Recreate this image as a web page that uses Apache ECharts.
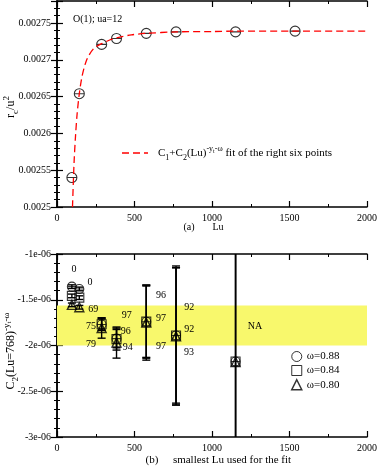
<!DOCTYPE html>
<html>
<head>
<meta charset="utf-8">
<script src="https://cdn.jsdelivr.net/npm/echarts@6/dist/echarts.min.js"></script>
<style>
  html, body { margin: 0; padding: 0; background: #fff; }
  #chart { width: 380px; height: 467px; }
</style>
</head>
<body>
<div id="chart"></div>
<script>
// panel (a): r_c/u^2 against Lu
const topLu = [96, 144, 288, 384, 576, 768, 1152, 1536]
const topRc = [0.00254, 0.002654, 0.002721, 0.002729, 0.002736, 0.002738, 0.002738, 0.002739]
// dashed fit curve
const fitLu = [100, 110, 120, 130, 144, 160, 180, 200, 240, 288, 340, 384, 480, 576, 768, 1000, 1152, 1536, 2000]
const fitVal = [0.0025, 0.00256, 0.002598, 0.002627, 0.002654, 0.002676, 0.002693, 0.002704, 0.002716, 0.002722,
  0.002727, 0.00273, 0.002734, 0.002736, 0.002738, 0.0027385, 0.002739, 0.002739, 0.002739]

// panel (b): C2(Lu=768)^(-yt-w) against smallest Lu used for the fit
const botLu = [96, 144, 288, 384, 576, 768, 1152]
const circleVal = [-1.357e-6, -1.382e-6, -1.77e-6, -1.925e-6, -1.74e-6, -1.89e-6, -2.175e-6]
const circleErr = [0.02e-6, 0.02e-6, 0.06e-6, 0.10e-6, 0.39e-6, 0.74e-6, 2e-6]
const squareVal = [-1.458e-6, -1.477e-6, -1.767e-6, -1.93e-6, -1.739e-6, -1.891e-6, -2.175e-6]
const squareErr = [0.02e-6, 0.02e-6, 0.07e-6, 0.12e-6, 0.40e-6, 0.76e-6, 2e-6]
const triVal = [-1.556e-6, -1.582e-6, -1.81e-6, -1.968e-6, -1.75e-6, -1.90e-6, -2.18e-6]
const triErr = [0.02e-6, 0.02e-6, 0.11e-6, 0.17e-6, 0.41e-6, 0.75e-6, 2e-6]
const bandRange = [-2.0e-6, -1.564e-6]
// the small numbers written beside the points
const noteText = ['0', '0', '69', '75', '79', '97', '96', '94', '96', '97', '97', '92', '92', '93', 'NA']
const noteLu = [110, 213, 234, 219, 219, 450, 443, 456, 671, 671, 671, 854, 854, 852, 1277]
const noteVal = [-1.164e-6, -1.309e-6, -1.603e-6, -1.786e-6, -1.993e-6, -1.676e-6, -1.848e-6, -2.018e-6,
  -1.455e-6, -1.709e-6, -2.011e-6, -1.582e-6, -1.822e-6, -2.07e-6, -1.793e-6]

const serif = 'Liberation Serif'
const circleBar = 'path://M0,5 A5,5 0 1,1 10,5 A5,5 0 1,1 0,5 Z M0,5 L10,5'

function zip (a, b) {
  return a.map(function (v, i) { return [v, b[i]] })
}

function bars (val, err) {
  return botLu.map(function (x, i) { return [x, val[i] - err[i], val[i] + err[i]] })
}

function errorBar (params, api) {
  let cs = params.coordSys
  let p1 = api.coord([api.value(0), api.value(2)])
  let p2 = api.coord([api.value(0), api.value(1)])
  let top = Math.max(p1[1], cs.y)
  let bot = Math.min(p2[1], cs.y + cs.height)
  let x = p1[0]
  let st = { stroke: '#000', lineWidth: 1.4 }
  let kids = [{ type: 'line', shape: { x1: x, y1: top, x2: x, y2: bot }, style: st }]
  if (p1[1] >= cs.y) kids.push({ type: 'line', shape: { x1: x - 4, y1: top, x2: x + 4, y2: top }, style: st })
  if (p2[1] <= cs.y + cs.height) kids.push({ type: 'line', shape: { x1: x - 4, y1: bot, x2: x + 4, y2: bot }, style: st })
  return { type: 'group', children: kids }
}

function noteItem (params, api) {
  let p = api.coord([api.value(0), api.value(1)])
  return {
    type: 'text',
    x: p[0],
    y: p[1],
    style: {
      text: noteText[params.dataIndex],
      font: '10px "' + serif + '"',
      fill: '#000',
      textAlign: 'center',
      textVerticalAlign: 'middle'
    }
  }
}

function sciLabel (v) {
  let s = (+v.toPrecision(4)).toExponential()
  return s.replace(/e([+-])(\d)$/, function (m, sg, d) { return 'e' + sg + '0' + d })
}

const tickInside = { show: true, inside: true, length: 6, lineStyle: { color: '#000', width: 1.2 } }
const minorInside = { show: true, splitNumber: 2, length: 3, lineStyle: { color: '#000', width: 1 } }
const axLine = { show: true, lineStyle: { color: '#000', width: 1.5 } }
const lab = { color: '#000', fontFamily: serif, fontSize: 10 }

function xAx (grid, pos, showLabel) {
  return {
    type: 'value', gridIndex: grid, position: pos, min: 0, max: 2000, interval: 500,
    axisLine: axLine, axisTick: tickInside, minorTick: minorInside, splitLine: { show: false },
    axisLabel: Object.assign({ show: showLabel, margin: 6, formatter: function (v) { return String(v) } }, lab)
  }
}

function yAx (grid, pos, showLabel, range, step, fmt, showMax) {
  return {
    type: 'value', gridIndex: grid, position: pos, min: range[0], max: range[1], interval: step,
    axisLine: axLine, axisTick: tickInside,
    minorTick: Object.assign({}, minorInside, { splitNumber: 5 }), splitLine: { show: false },
    axisLabel: Object.assign({ show: showLabel, margin: 6, formatter: fmt, showMaxLabel: showMax }, lab)
  }
}

function richAt (size) {
  let sub = Math.round(size * 0.72)
  return {
    n: { fontFamily: serif, fontSize: size, lineHeight: size + 6, color: '#000' },
    sb: { fontFamily: serif, fontSize: sub, verticalAlign: 'bottom', color: '#000' },
    sp: { fontFamily: serif, fontSize: sub, verticalAlign: 'top', color: '#000' },
    ss: { fontFamily: serif, fontSize: sub - 2, verticalAlign: 'top', padding: [4, 0, 0, 0], color: '#000' }
  }
}

let myChart = echarts.init(document.getElementById('chart'))

let option = {
  backgroundColor: '#fff',
  animation: false,
  grid: [
    { left: 57, right: 13, top: 1, height: 206 },
    { left: 57, right: 13, top: 254, height: 183 }
  ],
  xAxis: [xAx(0, 'bottom', true), xAx(0, 'top', false), xAx(1, 'bottom', true), xAx(1, 'top', false)],
  yAxis: [
    yAx(0, 'left', true, [0.0025, 0.00278], 0.00005, function (v) { return String(+v.toPrecision(6)) }, false),
    yAx(0, 'right', false, [0.0025, 0.00278], 0.00005),
    yAx(1, 'left', true, [-3e-6, -1e-6], 5e-7, sciLabel, true),
    yAx(1, 'right', false, [-3e-6, -1e-6], 5e-7)
  ],
  legend: {
    orient: 'vertical',
    left: 291,
    top: 351,
    padding: 0,
    itemWidth: 10,
    itemHeight: 10,
    itemGap: 3,
    textStyle: Object.assign({}, lab, { fontSize: 11 }),
    data: [
      { name: 'ω=0.88', icon: 'circle', itemStyle: { color: 'transparent', borderColor: '#000', borderWidth: 1 } },
      { name: 'ω=0.84', icon: 'rect', itemStyle: { color: 'transparent', borderColor: '#000', borderWidth: 1 } },
      { name: 'ω=0.80', icon: 'triangle', itemStyle: { color: 'transparent', borderColor: '#000', borderWidth: 1.5 } }
    ]
  },
  series: [
    {
      type: 'line', xAxisIndex: 0, yAxisIndex: 0, data: zip(fitLu, fitVal),
      smooth: 0.3, showSymbol: false, silent: true,
      lineStyle: { color: '#ff0000', width: 1.3, type: [7, 4] }
    },
    {
      type: 'scatter', xAxisIndex: 0, yAxisIndex: 0, data: zip(topLu, topRc),
      symbol: circleBar, symbolSize: [10, 10],
      itemStyle: { color: 'transparent', borderColor: '#000', borderWidth: 1.1 }
    },
    {
      type: 'custom', xAxisIndex: 2, yAxisIndex: 2, renderItem: errorBar, data: bars(triVal, triErr),
      markArea: {
        silent: true,
        itemStyle: { color: '#f8f86c' },
        data: [[{ xAxis: 0, yAxis: bandRange[1] }, { xAxis: 2000, yAxis: bandRange[0] }]]
      }
    },
    { type: 'custom', xAxisIndex: 2, yAxisIndex: 2, renderItem: errorBar, data: bars(squareVal, squareErr) },
    { type: 'custom', xAxisIndex: 2, yAxisIndex: 2, renderItem: errorBar, data: bars(circleVal, circleErr) },
    {
      name: 'ω=0.88', type: 'scatter', xAxisIndex: 2, yAxisIndex: 2, data: zip(botLu, circleVal),
      symbol: circleBar, symbolSize: 9, z: 5,
      itemStyle: { color: 'transparent', borderColor: '#000', borderWidth: 1.1 }
    },
    {
      name: 'ω=0.84', type: 'scatter', xAxisIndex: 2, yAxisIndex: 2, data: zip(botLu, squareVal),
      symbol: 'rect', symbolSize: 9, z: 5,
      itemStyle: { color: 'transparent', borderColor: '#000', borderWidth: 1.1 }
    },
    {
      name: 'ω=0.80', type: 'scatter', xAxisIndex: 2, yAxisIndex: 2, data: zip(botLu, triVal),
      symbol: 'triangle', symbolSize: 9, z: 5,
      itemStyle: { color: 'transparent', borderColor: '#000', borderWidth: 1.4 }
    },
    { type: 'custom', xAxisIndex: 2, yAxisIndex: 2, renderItem: noteItem, data: zip(noteLu, noteVal), z: 6 }
  ],
  graphic: [
    { type: 'text', left: 73, top: 14, style: { text: 'O(1); ua=12', font: '10px "' + serif + '"', fill: '#000' } },
    { type: 'line', shape: { x1: 122, y1: 153, x2: 148, y2: 153 }, style: { stroke: '#ff0000', lineWidth: 1.3, lineDash: [7, 4] } },
    {
      type: 'text', x: 158, y: 153,
      style: {
        text: '{n|C}{sb|1}{n|+C}{sb|2}{n|(Lu)}{sp|-y}{ss|t}{sp|-ω}{n| fit of the right six points}',
        rich: richAt(11), textVerticalAlign: 'middle'
      }
    },
    { type: 'text', x: 189, y: 227, style: { text: '(a)', font: '10px "' + serif + '"', fill: '#000', textAlign: 'center', textVerticalAlign: 'middle' } },
    { type: 'text', x: 218, y: 227, style: { text: 'Lu', font: '10px "' + serif + '"', fill: '#000', textAlign: 'center', textVerticalAlign: 'middle' } },
    {
      type: 'text', x: 11, y: 107, rotation: Math.PI / 2,
      style: { text: '{n|r}{sb|c}{n|/u}{sp|2}', rich: richAt(12), textAlign: 'center', textVerticalAlign: 'middle' }
    },
    {
      type: 'text', x: 11, y: 351, rotation: Math.PI / 2,
      style: { text: '{n|C}{sb|2}{n|(Lu=768)}{sp|-y}{ss|t}{sp|-ω}', rich: richAt(12), textAlign: 'center', textVerticalAlign: 'middle' }
    },
    { type: 'text', x: 152, y: 460, style: { text: '(b)', font: '11px "' + serif + '"', fill: '#000', textAlign: 'center', textVerticalAlign: 'middle' } },
    { type: 'text', x: 232, y: 460, style: { text: 'smallest Lu used for the fit', font: '11px "' + serif + '"', fill: '#000', textAlign: 'center', textVerticalAlign: 'middle' } }
  ]
}

myChart.setOption(option)
</script>
</body>
</html>
